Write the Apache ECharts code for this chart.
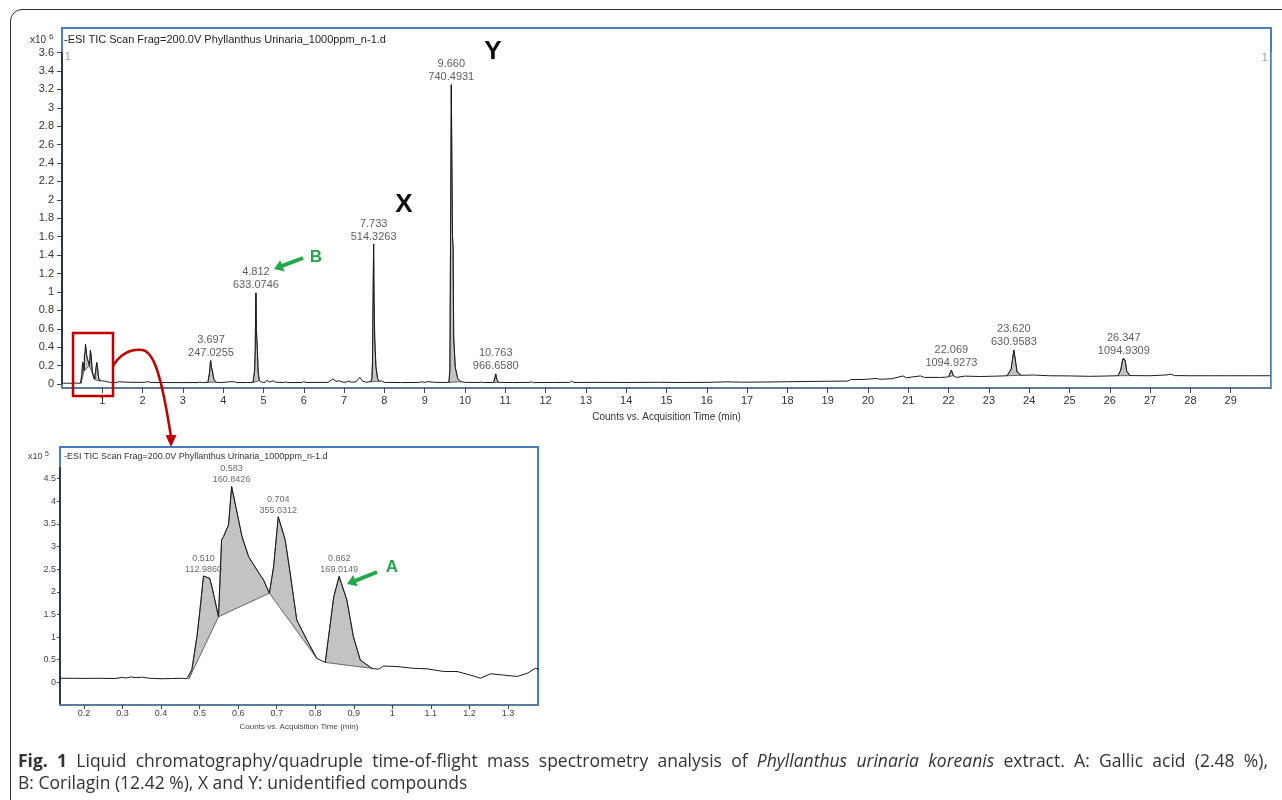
<!DOCTYPE html>
<html><head><meta charset="utf-8">
<script src="https://cdn.jsdelivr.net/npm/echarts@6/dist/echarts.min.js"></script>
<style>
html,body{margin:0;padding:0;background:#fff;width:1282px;height:800px;overflow:hidden;}
#frame{position:absolute;left:10px;top:9px;width:1300px;height:830px;border:1.5px solid #333;border-radius:12px;box-sizing:border-box;}
#chart{position:absolute;left:0;top:0;width:1282px;height:800px;}
#cap{position:absolute;left:18px;top:749px;width:1250px;font-family:"Open Sans",sans-serif;font-size:17.5px;line-height:22px;color:#333;}
#cap div{white-space:nowrap;}
#cap .l1{text-align:justify;text-align-last:justify;}
</style></head><body>
<div id="frame"></div>
<div id="chart"></div>
<div id="cap"><div class="l1"><b>Fig. 1</b> Liquid chromatography/quadruple time-of-flight mass spectrometry analysis of <i>Phyllanthus urinaria koreanis</i> extract. A: Gallic acid (2.48 %),</div><div>B: Corilagin (12.42 %), X and Y: unidentified compounds</div></div>
<script>
// ---- data: total ion chromatogram (time in min, intensity in counts) ----
const traceT = [
0.03,0.08,0.14,0.17,0.20,0.24,0.28,0.30,0.31,0.32,0.335,0.35,0.37,0.40,0.43,0.455,0.467,0.472,
0.480,0.493,0.500,0.510,0.526,0.532,0.549,0.557,0.562,0.575,0.583,0.610,0.627,0.649,0.666,0.681,
0.692,0.704,0.722,0.735,0.752,0.778,0.804,0.826,0.848,0.862,0.882,0.899,0.917,0.947,0.964,0.977,
1.012,1.055,1.090,1.133,1.168,1.203,1.229,1.255,1.289,1.324,1.350,1.371,1.40,
1.6,1.9,2.05,2.12,2.2,2.6,3.0,3.35,3.42,3.48,3.62,3.66,3.685,3.697,3.71,3.73,3.77,3.82,3.95,
4.10,4.15,4.28,4.33,4.6,4.74,4.78,4.795,4.80,4.812,4.825,4.85,4.87,4.90,4.97,5.05,5.09,5.14,5.24,5.3,
5.5,5.55,5.6,5.95,6.0,6.05,6.6,6.72,6.8,6.88,6.95,7.05,7.1,7.18,7.3,7.39,7.46,7.55,7.66,7.69,7.705,
7.715,7.733,7.745,7.76,7.79,7.83,7.87,7.93,8.0,8.4,8.85,8.92,9.0,9.08,9.2,9.4,9.6,9.625,9.64,9.66,
9.675,9.69,9.705,9.72,9.76,9.82,9.9,10.0,10.35,10.4,10.45,10.7,10.73,10.763,10.79,10.83,11.2,11.6,
11.65,11.7,12.2,12.6,12.65,12.7,13.3,14.0,14.8,15.2,16.0,16.5,16.9,17.5,18.0,18.5,19.0,19.5,19.57,
19.9,20.2,20.3,20.6,20.87,20.95,21.3,21.4,21.8,21.95,22.0,22.069,22.12,22.2,22.4,22.8,23.2,23.45,
23.55,23.62,23.66,23.7,23.8,24.1,24.5,25.0,25.5,25.8,26.2,26.27,26.32,26.347,26.38,26.42,26.5,27.0,
27.45,27.52,27.6,28.0,28.5,29.0,29.5,29.98];
const traceCounts = [
9000,9000,9000,9000,8800,9000,8500,11000,9500,12000,10500,11500,9000,8000,8500,9000,8000,7000,
29000,101000,153000,235000,230000,211000,145000,315000,322000,348000,433000,322000,278000,248000,226000,197000,
256000,366000,315000,241000,138000,94000,53000,44000,189000,234000,182000,101000,49000,31000,29000,36000,
35000,31000,30000,24000,24000,16000,9000,19000,16000,13000,20000,31000,25000,
20000,18000,19000,26000,18000,16000,16000,16000,21000,16000,18000,120000,250000,260000,180000,160000,50000,20000,16000,
22000,25000,25000,17000,16000,18000,150000,370000,600000,990000,590000,350000,120000,35000,18000,20000,43000,22000,35000,20000,
17000,22000,16000,17000,26000,17000,18000,54000,30000,35000,22000,20000,32000,20000,25000,73000,30000,20000,25000,60000,250000,
770000,1520000,900000,500000,190000,60000,30000,35000,18000,16000,17000,25000,18000,26000,20000,17000,18000,150000,1500000,3250000,
2400000,1600000,1480000,500000,180000,60000,25000,18000,17000,22000,16000,17000,40000,110000,50000,18000,16000,18000,
24000,16000,17000,18000,32000,17000,18000,17000,19000,17000,18000,24000,20000,22000,25000,28000,30000,32000,48000,
50000,60000,52000,58000,88000,68000,88000,72000,72000,75000,80000,152000,90000,72000,86000,82000,86000,90000,
160000,370000,250000,130000,95000,98000,90000,88000,84000,86000,90000,150000,270000,280000,260000,140000,92000,90000,
100000,108000,92000,90000,90000,90000,90000,90000];

// integrated peaks shown in the full chromatogram
const topPeakT     = [3.697, 4.812, 7.733, 9.660, 10.763, 22.069, 23.620, 26.347];
const topPeakMz    = ['247.0255','633.0746','514.3263','740.4931','966.6580','1094.9273','630.9583','1094.9309'];
const topPeakStart = [3.62, 4.74, 7.66, 9.6, 10.7, 22.0, 23.45, 26.2];
const topPeakEnd   = [3.82, 4.90, 7.87, 9.9, 10.83, 22.12, 23.8, 26.5];
// integrated peaks shown in the zoomed inset
const insetPeakT     = [0.510, 0.583, 0.704, 0.862];
const insetPeakMz    = ['112.9860','160.8426','355.0312','169.0149'];
const insetPeakStart = [0.472, 0.549, 0.681, 0.826];
const insetPeakEnd   = [0.549, 0.681, 0.804, 0.947];

// tick labels
const topXTicks = [1,2,3,4,5,6,7,8,9,10,11,12,13,14,15,16,17,18,19,20,21,22,23,24,25,26,27,28,29];
const topYTicks = [0,0.2,0.4,0.6,0.8,1,1.2,1.4,1.6,1.8,2,2.2,2.4,2.6,2.8,3,3.2,3.4,3.6];   // x10^6
const insetXTicks = [0.2,0.3,0.4,0.5,0.6,0.7,0.8,0.9,1,1.1,1.2,1.3];
const insetYTicks = [0,0.5,1,1.5,2,2.5,3,3.5,4,4.5];   // x10^5

const TITLE = '-ESI TIC Scan Frag=200.0V Phyllanthus Urinaria_1000ppm_n-1.d';
const FONT = '"Liberation Sans", Arial, sans-serif';

function idxOf(t){ let b=0; for(let i=1;i<traceT.length;i++){ if(Math.abs(traceT[i]-t)<Math.abs(traceT[b]-t)) b=i; } return b; }
const traceData = traceT.map((t,i)=>[t, traceCounts[i]]);

function makeFill(starts, ends){
  return function(params, api){
    const i = params.dataIndex;
    const a = idxOf(starts[i]), b = idxOf(ends[i]);
    const pts = [];
    for(let k=a;k<=b;k++) pts.push(api.coord([traceT[k], traceCounts[k]]));
    return {type:'polygon', shape:{points:pts}, style:{fill:'#c3c3c3', stroke:'#333', lineWidth:0.7}};
  };
}
const allStart = insetPeakStart.concat(topPeakStart);
const allEnd = insetPeakEnd.concat(topPeakEnd);

const topLabels = topPeakT.map((t,i)=>({value:[t, traceCounts[idxOf(t)]], mz: topPeakMz[i]}));
const insetLabels = insetPeakT.map((t,i)=>({value:[t, traceCounts[idxOf(t)]], mz: insetPeakMz[i]}));

function arrow(x1,y1,x2,y2,color,w,hl,hw){
  const dx=x2-x1, dy=y2-y1, L=Math.hypot(dx,dy), ux=dx/L, uy=dy/L, nx=-uy, ny=ux;
  const bx=x2-ux*hl, by=y2-uy*hl;
  return [
    {type:'line', shape:{x1:x1,y1:y1,x2:bx+ux*1,y2:by+uy*1}, style:{stroke:color, lineWidth:w}, z:100},
    {type:'polygon', shape:{points:[[x2,y2],[bx+nx*hw,by+ny*hw],[bx-nx*hw,by-ny*hw]]}, style:{fill:color}, z:100}
  ];
}
function txt(x,y,text,size,fill,extra){
  return {type:'text', x:x, y:y, z:100, style:Object.assign({text:text, fontSize:size, fill:fill, fontFamily:FONT, verticalAlign:'middle'}, extra||{})};
}
const GREEN = '#22a84b', RED = '#c00000';

const chart = echarts.init(document.getElementById('chart'), null, {renderer:'canvas'});
const option = {
  animation:false,
  textStyle:{fontFamily:FONT},
  grid:[
    {left:62, top:28, width:1209, height:360, show:true, borderColor:'#4a7ebb', borderWidth:2, backgroundColor:'transparent'},
    {left:60, top:447, width:478, height:258, show:true, borderColor:'#4a7ebb', borderWidth:2, backgroundColor:'transparent'}
  ],
  xAxis:[
    {type:'value', gridIndex:0, min:0, max:30, splitLine:{show:false},
     axisLine:{show:true, onZero:false, lineStyle:{color:'#777', width:1}},
     axisTick:{show:true, length:5, customValues:topXTicks, lineStyle:{color:'#444'}},
     axisLabel:{customValues:topXTicks, fontSize:11, color:'#333', margin:7, fontFamily:FONT},
     name:'Counts vs. Acquisition Time (min)', nameLocation:'middle', nameGap:24,
     nameTextStyle:{fontSize:10, color:'#333', fontFamily:FONT}},
    {type:'value', gridIndex:1, min:0.1377, max:1.378, splitLine:{show:false},
     axisLine:{show:true, onZero:false, lineStyle:{color:'#777', width:1}},
     axisTick:{show:true, length:4, customValues:insetXTicks, lineStyle:{color:'#444'}},
     axisLabel:{customValues:insetXTicks, fontSize:9, color:'#444', margin:4, fontFamily:FONT,
       formatter:v=>String(Math.round(v*10)/10)},
     name:'Counts vs. Acquisition Time (min)', nameLocation:'middle', nameGap:18,
     nameTextStyle:{fontSize:8, color:'#444', fontFamily:FONT}}
  ],
  yAxis:[
    {type:'value', gridIndex:0, min:-43000, max:3866000, splitLine:{show:false},
     axisLine:{show:false},
     axisTick:{show:true, length:5, customValues:topYTicks.map(v=>v*1e6), lineStyle:{color:'#444'}},
     axisLabel:{customValues:topYTicks.map(v=>v*1e6), fontSize:11, color:'#333', margin:8, fontFamily:FONT,
       formatter:v=>String(Math.round(v/1e5)/10)}},
    {type:'value', gridIndex:1, min:-50000, max:520000, splitLine:{show:false},
     axisLine:{show:false},
     axisTick:{show:true, length:3, customValues:insetYTicks.map(v=>v*1e5), lineStyle:{color:'#444'}},
     axisLabel:{customValues:insetYTicks.map(v=>v*1e5), fontSize:9, color:'#444', margin:4, fontFamily:FONT,
       formatter:v=>String(Math.round(v/1e4)/10)}}
  ],
  series:[
    {type:'custom', xAxisIndex:0, yAxisIndex:0, clip:true, z:1, silent:true,
     data:allStart.map(s=>[s,0]), renderItem:makeFill(allStart, allEnd)},
    {type:'line', xAxisIndex:0, yAxisIndex:0, data:traceData, showSymbol:false, z:3, silent:true,
     lineStyle:{color:'#1a1a1a', width:1},
     markLine:{silent:true, symbol:['none','none'], label:{show:false}, animation:false,
       lineStyle:{color:'#222', width:1.5, type:'solid'},
       data:[[{coord:[0,0]},{coord:[0,3600000]}],
             [{coord:[30,-43000], lineStyle:{color:'#999', width:1}},{coord:[30,3600000]}]]}},
    {type:'scatter', xAxisIndex:0, yAxisIndex:0, symbolSize:0.1, itemStyle:{color:'transparent'}, z:5, silent:true,
     data:topLabels,
     label:{show:true, position:'top', distance:1, fontSize:11, lineHeight:13, color:'#333', fontFamily:FONT,
       formatter:p=>p.value[0].toFixed(3)+'\n'+p.data.mz}},
    {type:'custom', xAxisIndex:1, yAxisIndex:1, clip:true, z:1, silent:true,
     data:insetPeakStart.map(s=>[s,0]), renderItem:makeFill(insetPeakStart, insetPeakEnd)},
    {type:'line', xAxisIndex:1, yAxisIndex:1, data:traceData, showSymbol:false, z:3, silent:true,
     lineStyle:{color:'#1a1a1a', width:1},
     markLine:{silent:true, symbol:['none','none'], label:{show:false}, animation:false,
       lineStyle:{color:'#222', width:1.5, type:'solid'},
       data:[[{coord:[0.1377,-48000]},{coord:[0.1377,475000]}]]}},
    {type:'scatter', xAxisIndex:1, yAxisIndex:1, symbolSize:0.1, itemStyle:{color:'transparent'}, z:5, silent:true,
     data:insetLabels,
     label:{show:true, position:'top', distance:1, fontSize:9, lineHeight:11, color:'#444', fontFamily:FONT,
       formatter:p=>p.value[0].toFixed(3)+'\n'+p.data.mz}}
  ],
  graphic:[
    txt(64,40,TITLE,11,'#222'),
    txt(30,40,'{a|x10 }{b|6}',10,'#333',{rich:{a:{fontSize:10, fill:'#333', fontFamily:FONT}, b:{fontSize:8, fill:'#333', fontFamily:FONT, padding:[0,0,6,0]}}}),
    txt(65,57,'1',10,'#999'),
    txt(1262,58,'1',10,'#999'),
    txt(64,457,TITLE,9,'#333'),
    txt(28,457,'{a|x10 }{b|5}',9,'#444',{rich:{a:{fontSize:9, fill:'#444', fontFamily:FONT}, b:{fontSize:7, fill:'#444', fontFamily:FONT, padding:[0,0,5,0]}}}),
    txt(493,52,'Y',26,'#111',{fontWeight:'bold', align:'center'}),
    txt(404,205,'X',26,'#111',{fontWeight:'bold', align:'center'}),
    txt(316,257,'B',17,GREEN,{fontWeight:'bold', align:'center'}),
    txt(392,567,'A',17,GREEN,{fontWeight:'bold', align:'center'}),
    ...arrow(303,258,274,269,GREEN,4,9,6),
    ...arrow(377,572,347,584,GREEN,4,9,6),
    {type:'rect', shape:{x:73, y:333, width:40, height:63}, style:{fill:'none', stroke:RED, lineWidth:2.5}, z:100},
    {type:'bezierCurve', shape:{x1:113,y1:366,cpx1:121,cpy1:353,cpx2:131,cpy2:349,x2:142,y2:350}, style:{fill:'none', stroke:RED, lineWidth:2.5}, z:100},
    {type:'bezierCurve', shape:{x1:142,y1:350,cpx1:153,cpy1:351,cpx2:161,cpy2:372,x2:171,y2:437}, style:{fill:'none', stroke:RED, lineWidth:2.5}, z:100},
    {type:'polygon', shape:{points:[[171,447],[165.5,435],[176.5,435]]}, style:{fill:RED}, z:100}
  ]
};
chart.setOption(option);
</script>
</body></html>
